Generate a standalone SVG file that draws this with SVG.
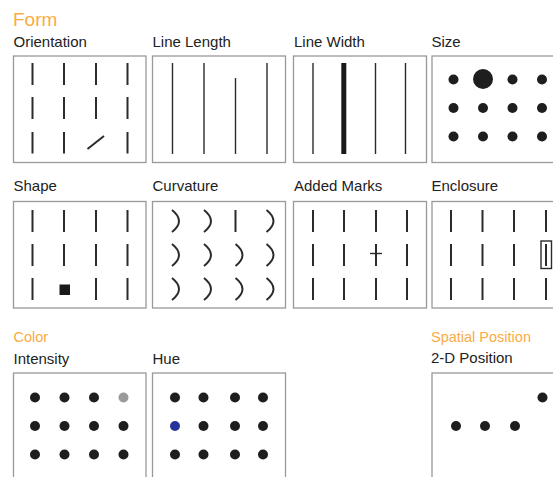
<svg xmlns="http://www.w3.org/2000/svg" width="553" height="477" viewBox="0 0 553 477">
<defs>
<style>
.sec{font-family:"Liberation Sans",Arial,sans-serif;font-size:14.5px;fill:#fbab45}
.big{font-size:19px}
.lab{font-family:"Liberation Sans",Arial,sans-serif;font-size:15px;fill:#222}
.box{fill:#fff;stroke:#999;stroke-width:1.3}
.ln{stroke:#2b2b2b;stroke-width:2;fill:none;stroke-linecap:butt}
.tl{stroke:#2b2b2b;stroke-width:1.4;fill:none}
.dot{fill:#1e1e1e}
</style>
</defs>
<rect width="553" height="477" fill="#fff"/>
<text class="sec big" x="13" y="26">Form</text>
<text class="sec" x="13.5" y="341.5">Color</text>
<text class="sec" x="431" y="341.5">Spatial Position</text>

<g id="orientation">
<text class="lab" x="13.5" y="46.5">Orientation</text>
<rect class="box" x="13.5" y="56" width="132.5" height="106.5"/>
<path class="ln" d="M32.5,63v22M64,63v22M96,63v22M127.5,63v22M32.5,97v22M64,97v22M96,97v22M127.5,97v22M32.5,132v21.5M64,132v21.5M127.5,132v21.5M87.5,149L104,136"/>
</g>

<g id="line-length">
<text class="lab" x="152.5" y="46.5">Line Length</text>
<rect class="box" x="152.5" y="56" width="133" height="106.5"/>
<path class="tl" d="M172.5,63v91M204,63v91M235.5,78v76M267,63v91"/>
</g>

<g id="line-width">
<text class="lab" x="294" y="46.5">Line Width</text>
<rect class="box" x="293.5" y="56" width="133" height="106.5"/>
<path class="tl" d="M313,63v91M375.5,63v91M405.5,63v91"/>
<path d="M343.8,63v91" stroke="#1a1a1a" stroke-width="5" fill="none"/>
</g>

<g id="size">
<text class="lab" x="431.5" y="46.5">Size</text>
<rect class="box" x="432" y="56" width="140" height="106.5"/>
<circle class="dot" cx="453.5" cy="79.5" r="5"/>
<circle class="dot" cx="483" cy="79" r="10"/>
<circle class="dot" cx="512.5" cy="79.5" r="5"/>
<circle class="dot" cx="542" cy="79.5" r="5"/>
<circle class="dot" cx="453.5" cy="108" r="5"/>
<circle class="dot" cx="483" cy="108" r="5"/>
<circle class="dot" cx="512.5" cy="108" r="5"/>
<circle class="dot" cx="542" cy="108" r="5"/>
<circle class="dot" cx="453.5" cy="136.5" r="5"/>
<circle class="dot" cx="483" cy="136.5" r="5"/>
<circle class="dot" cx="512.5" cy="136.5" r="5"/>
<circle class="dot" cx="542" cy="136.5" r="5"/>
</g>

<g id="shape">
<text class="lab" x="13.5" y="191">Shape</text>
<rect class="box" x="13.5" y="201.5" width="132.5" height="106.5"/>
<path class="ln" d="M32.5,210v22M64,210v22M96,210v22M127.5,210v22M32.5,244v22M64,244v22M96,244v22M127.5,244v22M32.5,278v22M96,278v22M127.5,278v22"/>
<rect x="59.5" y="284.5" width="10.5" height="10.5" fill="#1a1a1a"/>
</g>

<g id="curvature">
<text class="lab" x="152.5" y="191">Curvature</text>
<rect class="box" x="152.5" y="201.5" width="133" height="106.5"/>
<path class="ln" d="M172,210Q186,221 172,232M204,210Q218,221 204,232M235.5,210v22M266.5,210Q280.5,221 266.5,232M172,244Q186,255 172,266M204,244Q218,255 204,266M235.5,244Q249.5,255 235.5,266M266.5,244Q280.5,255 266.5,266M172,278Q186,289 172,300M204,278Q218,289 204,300M235.5,278Q249.5,289 235.5,300M266.5,278Q280.5,289 266.5,300"/>
</g>

<g id="added-marks">
<text class="lab" x="294" y="191">Added Marks</text>
<rect class="box" x="293.5" y="201.5" width="133" height="106.5"/>
<path class="ln" d="M313,210v22M344,210v22M376,210v22M407,210v22M313,244v22M344,244v22M376,244v22M407,244v22M313,278v22M344,278v22M376,278v22M407,278v22"/>
<path class="tl" d="M370,253.5h12"/>
</g>

<g id="enclosure">
<text class="lab" x="431.5" y="191">Enclosure</text>
<rect class="box" x="432" y="201.5" width="140" height="106.5"/>
<path class="ln" d="M451,210v22M482.5,210v22M514,210v22M546,210v22M451,244v22M482.5,244v22M514,244v22M546,244v22M451,278v22M482.5,278v22M514,278v22M546,278v22"/>
<rect x="541" y="241" width="10.5" height="27.5" fill="none" stroke="#2b2b2b" stroke-width="1.4"/>
</g>

<g id="intensity">
<text class="lab" x="13.5" y="363.5">Intensity</text>
<rect class="box" x="13.5" y="373" width="132.5" height="120"/>
<circle class="dot" cx="35" cy="397.5" r="5"/>
<circle class="dot" cx="64.5" cy="397.5" r="5"/>
<circle class="dot" cx="94" cy="397.5" r="5"/>
<circle cx="123.5" cy="397.5" r="5" fill="#9a9a9a"/>
<circle class="dot" cx="35" cy="426" r="5"/>
<circle class="dot" cx="64.5" cy="426" r="5"/>
<circle class="dot" cx="94" cy="426" r="5"/>
<circle class="dot" cx="123.5" cy="426" r="5"/>
<circle class="dot" cx="35" cy="454.5" r="5"/>
<circle class="dot" cx="64.5" cy="454.5" r="5"/>
<circle class="dot" cx="94" cy="454.5" r="5"/>
<circle class="dot" cx="123.5" cy="454.5" r="5"/>
</g>

<g id="hue">
<text class="lab" x="152.5" y="363.5">Hue</text>
<rect class="box" x="152.5" y="373" width="133" height="120"/>
<circle class="dot" cx="175" cy="397.5" r="5"/>
<circle class="dot" cx="203.5" cy="397.5" r="5"/>
<circle class="dot" cx="235" cy="397.5" r="5"/>
<circle class="dot" cx="263" cy="397.5" r="5"/>
<circle cx="175" cy="426" r="5" fill="#26339a"/>
<circle class="dot" cx="203.5" cy="426" r="5"/>
<circle class="dot" cx="235" cy="426" r="5"/>
<circle class="dot" cx="263" cy="426" r="5"/>
<circle class="dot" cx="175" cy="454.5" r="5"/>
<circle class="dot" cx="203.5" cy="454.5" r="5"/>
<circle class="dot" cx="235" cy="454.5" r="5"/>
<circle class="dot" cx="263" cy="454.5" r="5"/>
</g>

<g id="position-2d">
<text class="lab" x="431" y="363">2-D Position</text>
<rect class="box" x="432" y="373" width="140" height="120"/>
<circle class="dot" cx="456" cy="426" r="5"/>
<circle class="dot" cx="485" cy="426" r="5"/>
<circle class="dot" cx="515" cy="426" r="5"/>
<circle class="dot" cx="542.5" cy="397.5" r="5"/>
</g>
</svg>
